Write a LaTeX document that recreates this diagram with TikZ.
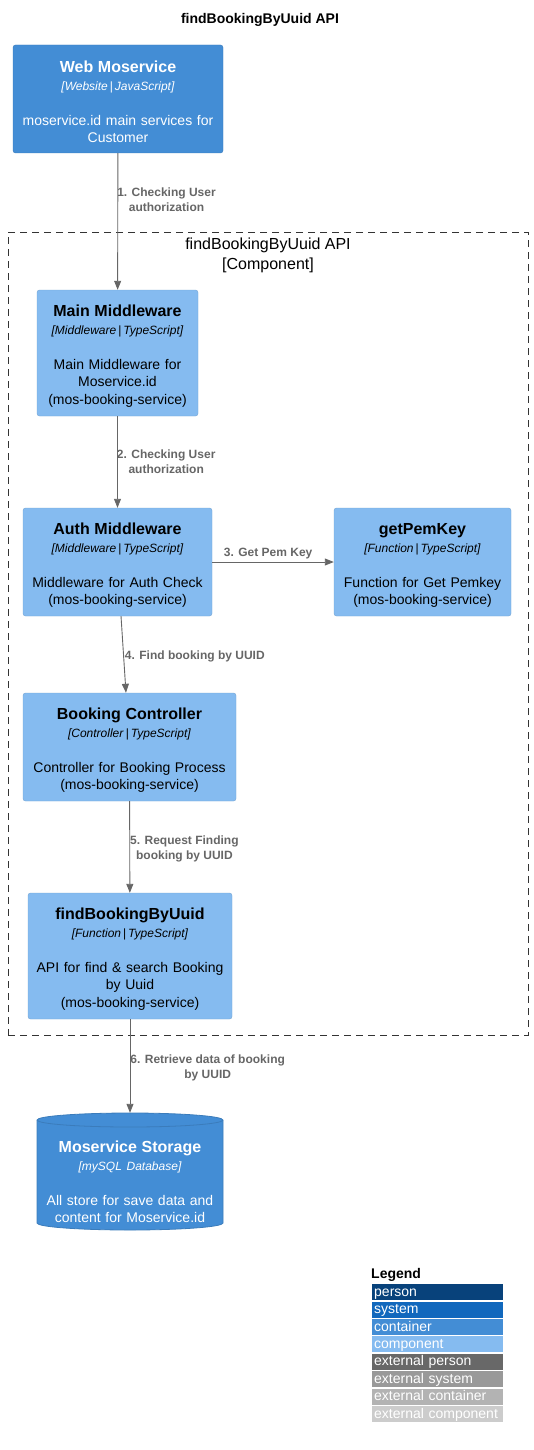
\documentclass[tikz,border=0pt]{standalone}
\usepackage{fontspec}
\setmainfont{Liberation Sans}
\usetikzlibrary{arrows.meta}

\definecolor{personc}{HTML}{08427B}
\definecolor{systemc}{HTML}{1168BD}
\definecolor{containerc}{HTML}{438DD5}
\definecolor{componentc}{HTML}{85BBF0}
\definecolor{extpersonc}{HTML}{686868}
\definecolor{extsystemc}{HTML}{999999}
\definecolor{extcontainerc}{HTML}{B3B3B3}
\definecolor{extcomponentc}{HTML}{CCCCCC}
\definecolor{relc}{HTML}{666666}

\newcommand{\boxtitle}[1]{{\fontsize{16}{17.5}\selectfont\bfseries\rule{0pt}{18pt}#1}}
\newcommand{\boxtech}[2]{{\fontsize{12}{17.5}\selectfont\textit{[#1}\,|\,\textit{#2]}}}

\begin{document}
\begin{tikzpicture}
[
  x=1pt, y=-1pt,
  >={Triangle[length=9pt,width=7pt]},
  container/.style = {draw=containerc!88!black, fill=containerc, text=white, rounded corners=2.5pt,
                      inner sep=0pt, align=center, font=\fontsize{14}{17.5}\selectfont},
  component/.style = {draw=componentc!88!black, fill=componentc, text=black, rounded corners=2.5pt,
                      inner sep=0pt, align=center, font=\fontsize{14}{17.5}\selectfont},
  database/.style = {text=white, inner sep=0pt, align=center, font=\fontsize{14}{17.5}\selectfont},
  dbshape/.style = {fill=containerc, draw=containerc!88!black, line width=0.8pt},
  rel/.style = {->, draw=relc, line width=0.9pt},
  rellabel/.style = {text=relc, font=\fontsize{12}{15}\selectfont\bfseries, align=center, inner sep=0pt},
  legendrow/.style = {fill=#1, text=white, anchor=north west, align=left, text width=127pt,
                      text height=12pt, text depth=4pt, inner xsep=2pt, inner ysep=0pt,
                      font=\fontsize{14}{16}\selectfont},
]
\useasboundingbox (0,0) rectangle (533,1450);

\node (title) at (260,20) [font=\fontsize{14}{16}\selectfont\bfseries] {findBookingByUuid API};

% boundary
\node (bnd) at (268,633.5) [draw=black!80, dash pattern=on 7pt off 5pt, line width=0.8pt,
      minimum width=520pt, minimum height=803pt, inner sep=0pt] {};
\node (bndlabel) at (268,255) [align=center, font=\fontsize{16}{20}\selectfont]
      {findBookingByUuid API\\ {[Component]}};

% containers and components
\node (web) at (118,99) [container, text width=210pt, minimum height=108pt]
      {\boxtitle{Web Moservice}\\ \boxtech{Website}{JavaScript}\\[17.5pt]
       moservice.id main services for\\ Customer};
\node (mainmw) at (117.5,353) [component, text width=161pt, minimum height=126pt]
      {\boxtitle{Main Middleware}\\ \boxtech{Middleware}{TypeScript}\\[17.5pt]
       Main Middleware for\\ Moservice.id\\ (mos-booking-service)};
\node (authmw) at (117.5,562) [component, text width=189pt, minimum height=108pt]
      {\boxtitle{Auth Middleware}\\ \boxtech{Middleware}{TypeScript}\\[17.5pt]
       Middleware for Auth Check\\ (mos-booking-service)};
\node (pemkey) at (422.5,562) [component, text width=177pt, minimum height=108pt]
      {\boxtitle{getPemKey}\\ \boxtech{Function}{TypeScript}\\[17.5pt]
       Function for Get Pemkey\\ (mos-booking-service)};
\node (bookctl) at (129.5,747) [component, text width=213pt, minimum height=108pt]
      {\boxtitle{Booking Controller}\\ \boxtech{Controller}{TypeScript}\\[17.5pt]
       Controller for Booking Process\\ (mos-booking-service)};
\node (findfn) at (130,956) [component, text width=204pt, minimum height=126pt]
      {\boxtitle{findBookingByUuid}\\ \boxtech{Function}{TypeScript}\\[17.5pt]
       API for find \& search Booking\\ by Uuid\\ (mos-booking-service)};

% database cylinder
\begin{scope}[shift={(130,1171.5)}]
  \filldraw[dbshape] (-93,-51.5) -- (-93,51.5) arc[start angle=180, end angle=0, x radius=93, y radius=7]
    -- (93,-51.5) arc[start angle=0, end angle=-180, x radius=93, y radius=7] -- cycle;
  \draw[dbshape, fill=none] (-93,-51.5) arc[start angle=180, end angle=0, x radius=93, y radius=7];
\end{scope}
\node (storage) at (130,1171.5) [database, text width=186pt, minimum height=117pt]
      {{\fontsize{16}{17.5}\selectfont\bfseries\rule{0pt}{33pt}Moservice Storage}\\
       {\fontsize{12}{17.5}\selectfont\itshape [mySQL Database]}\\[17.5pt]
       All store for save data and\\ content for Moservice.id};

% relations
\draw[rel] (web) -- node (la) [rellabel, pos=0.34, anchor=west, xshift=-1pt]
      {1. Checking User\\ authorization} (mainmw);
\draw[rel] (mainmw) -- node (lb) [rellabel, pos=0.5, anchor=west, xshift=-1pt]
      {2. Checking User\\ authorization} (authmw);
\draw[rel] (authmw) -- node (lc) [rellabel, pos=0.46, anchor=south, yshift=3pt]
      {3. Get Pem Key} (pemkey);
\draw[rel] (authmw) -- node (ld) [rellabel, pos=0.5, anchor=west, xshift=1pt, yshift=-2pt]
      {4. Find booking by UUID} (bookctl);
\draw[rel] (bookctl) -- node (le) [rellabel, pos=0.51, anchor=west, yshift=-1pt]
      {5. Request Finding\\ booking by UUID} (findfn);
\draw[rel] (findfn) -- node (lf) [rellabel, pos=0.52, anchor=west]
      {6. Retrieve data of booking\\ by UUID} (storage);

% legend
\node (legend) at (371,1275) [anchor=west, inner sep=0pt, font=\fontsize{14}{16}\selectfont\bfseries] {Legend};
\node (lg1) at (372,1284.0) [legendrow=personc] {person};
\node (lg2) at (372,1301.4) [legendrow=systemc] {system};
\node (lg3) at (372,1318.8) [legendrow=containerc] {container};
\node (lg4) at (372,1336.2) [legendrow=componentc] {component};
\node (lg5) at (372,1353.6) [legendrow=extpersonc] {external person};
\node (lg6) at (372,1371.0) [legendrow=extsystemc] {external system};
\node (lg7) at (372,1388.4) [legendrow=extcontainerc] {external container};
\node (lg8) at (372,1405.8) [legendrow=extcomponentc] {external component};

\end{tikzpicture}
\end{document}
